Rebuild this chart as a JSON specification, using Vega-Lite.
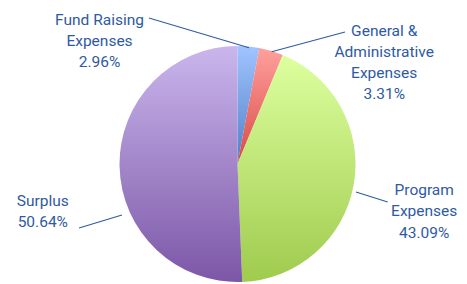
{
  "$schema": "https://vega.github.io/schema/vega-lite/v6.json",
  "width": 467,
  "height": 284,
  "padding": 0,
  "autosize": {"type": "none"},
  "background": "white",
  "config": {"view": {"stroke": null}},
  "data": {
    "values": [
      {"category": "Fund Raising Expenses", "pct": 2.96, "order": 1, "label": "Fund Raising\nExpenses\n2.96%", "lx": -1.1695, "ly": 1.2229, "ax": -0.75, "ay": 1.237, "bx": 0.0975, "by": 0.9856},
      {"category": "General & Administrative Expenses", "pct": 3.31, "order": 2, "label": "General &\nAdministrative\nExpenses\n3.31%", "lx": 1.2432, "ly": 1.1305, "ax": 0.911, "ay": 1.119, "bx": 0.2898, "by": 0.9517},
      {"category": "Program Expenses", "pct": 43.09, "order": 3, "label": "Program\nExpenses\n43.09%", "lx": 1.5822, "ly": -0.222, "ax": 1.004, "ay": -0.237, "bx": 1.273, "by": -0.322},
      {"category": "Surplus", "pct": 50.64, "order": 4, "label": "Surplus\n50.64%", "lx": -1.65, "ly": -0.3102, "ax": -0.979, "ay": -0.432, "bx": -1.343, "by": -0.542}
    ]
  },
  "transform": [
    {"stack": "pct", "groupby": [], "sort": [{"field": "order", "order": "ascending"}], "as": ["p0", "p1"]}
  ],
  "layer": [
    {
      "transform": [{"filter": "datum.order == 1"}],
      "mark": {"type": "arc", "outerRadius": 118, "fill": {"gradient": "linear", "x1": 0, "y1": 0, "x2": 0, "y2": 1, "stops": [{"offset": 0, "color": "#a1c4ff"}, {"offset": 1, "color": "#4f7fc8"}]}},
      "encoding": {
        "theta": {"field": "p0", "type": "quantitative", "scale": {"domain": [0, 100]}},
        "theta2": {"field": "p1"},
        "x": {"datum": 0, "type": "quantitative", "scale": {"domain": [-2.0127, 1.9449], "nice": false, "zero": false}, "axis": null},
        "y": {"datum": 0, "type": "quantitative", "scale": {"domain": [-1.0169, 1.3898], "nice": false, "zero": false}, "axis": null}
      }
    },
    {
      "transform": [{"filter": "datum.order == 2"}],
      "mark": {"type": "arc", "outerRadius": 118, "fill": {"gradient": "linear", "x1": 0, "y1": 0, "x2": 0, "y2": 1, "stops": [{"offset": 0, "color": "#ffa09c"}, {"offset": 1, "color": "#d84a46"}]}},
      "encoding": {
        "theta": {"field": "p0", "type": "quantitative"},
        "theta2": {"field": "p1"},
        "x": {"datum": 0, "type": "quantitative"},
        "y": {"datum": 0, "type": "quantitative"}
      }
    },
    {
      "transform": [{"filter": "datum.order == 3"}],
      "mark": {"type": "arc", "outerRadius": 118, "fill": {"gradient": "linear", "x1": 0, "y1": 0, "x2": 0, "y2": 1, "stops": [{"offset": 0, "color": "#ddff9f"}, {"offset": 1, "color": "#9fcb4e"}]}},
      "encoding": {
        "theta": {"field": "p0", "type": "quantitative"},
        "theta2": {"field": "p1"},
        "x": {"datum": 0, "type": "quantitative"},
        "y": {"datum": 0, "type": "quantitative"}
      }
    },
    {
      "transform": [{"filter": "datum.order == 4"}],
      "mark": {"type": "arc", "outerRadius": 118, "fill": {"gradient": "linear", "x1": 0, "y1": 0, "x2": 0, "y2": 1, "stops": [{"offset": 0, "color": "#cab6ec"}, {"offset": 1, "color": "#7c57a7"}]}},
      "encoding": {
        "theta": {"field": "p0", "type": "quantitative"},
        "theta2": {"field": "p1"},
        "x": {"datum": 0, "type": "quantitative"},
        "y": {"datum": 0, "type": "quantitative"}
      }
    },
    {
      "mark": {"type": "rule", "color": "#2f5aa3", "strokeWidth": 1.1},
      "encoding": {
        "x": {"field": "ax", "type": "quantitative"},
        "y": {"field": "ay", "type": "quantitative"},
        "x2": {"field": "bx"},
        "y2": {"field": "by"}
      }
    },
    {
      "mark": {"type": "text", "lineBreak": "\n", "font": "Roboto, sans-serif", "fontSize": 15.5, "lineHeight": 21.3, "align": "center", "baseline": "middle", "color": "#2f5aa3"},
      "encoding": {
        "x": {"field": "lx", "type": "quantitative"},
        "y": {"field": "ly", "type": "quantitative"},
        "text": {"field": "label", "type": "nominal"}
      }
    }
  ]
}
